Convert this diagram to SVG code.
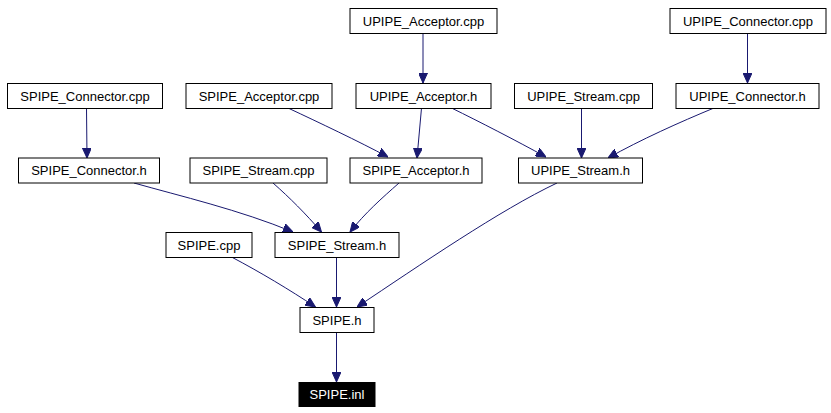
<svg xmlns="http://www.w3.org/2000/svg" width="831" height="413" viewBox="0 0 831 413">
<defs>
<style>
.n rect{fill:#fff;stroke:#000;stroke-width:1}
.n text{font-family:"Liberation Sans",Arial,sans-serif;font-size:13px;text-anchor:middle;fill:#000}
.hl rect{fill:#000}
.hl text{fill:#fff}
.e path{fill:none;stroke:#191970;stroke-width:1;marker-end:url(#ah)}
</style>
<marker id="ah" markerUnits="userSpaceOnUse" markerWidth="10" markerHeight="9" refX="10" refY="4.5" orient="auto">
<path d="M0,0 L10,4.5 L0,9 z" fill="#191970" stroke="#191970" stroke-width="1"/>
</marker>
</defs>
<rect width="831" height="413" fill="#fff"/>
<g id="edges" class="e">
<path d="M423,33 L423,83"/>
<path d="M86.5,108 L87,158"/>
<path d="M288,108 C320,123 358,141 388,157"/>
<path d="M421.5,108 L417,158"/>
<path d="M451.5,108 C480,122 515,140 546,157"/>
<path d="M581.5,108 L581.5,158"/>
<path d="M747.5,33 L747.5,83"/>
<path d="M714,108 C680,122 640,140 608,158"/>
<path d="M134,183 C180,196 240,210 293,232"/>
<path d="M273,183 C290,198 305,213 321.5,232"/>
<path d="M399,183 C382,198 365,213 350,232"/>
<path d="M557,183 C500,210 420,265 357,307"/>
<path d="M231.5,257 C260,272 290,290 315.5,307"/>
<path d="M336.5,257 L336.5,307"/>
<path d="M336.5,332 L336.5,382"/>
</g>
<g id="UPIPE_Acceptor_cpp" class="n"><rect x="350" y="8.5" width="147" height="25"/><text x="423.5" y="25.5">UPIPE_Acceptor.cpp</text></g>
<g id="UPIPE_Connector_cpp" class="n"><rect x="670" y="8.5" width="156" height="25"/><text x="748" y="25.5">UPIPE_Connector.cpp</text></g>
<g id="SPIPE_Connector_cpp" class="n"><rect x="7.5" y="83.5" width="155" height="25"/><text x="85" y="100.5">SPIPE_Connector.cpp</text></g>
<g id="SPIPE_Acceptor_cpp" class="n"><rect x="186" y="83.5" width="146" height="25"/><text x="259" y="100.5">SPIPE_Acceptor.cpp</text></g>
<g id="UPIPE_Acceptor_h" class="n"><rect x="356" y="83.5" width="135" height="25"/><text x="423.5" y="100.5">UPIPE_Acceptor.h</text></g>
<g id="UPIPE_Stream_cpp" class="n"><rect x="514.5" y="83.5" width="138" height="25"/><text x="583.5" y="100.5">UPIPE_Stream.cpp</text></g>
<g id="UPIPE_Connector_h" class="n"><rect x="676" y="83.5" width="143" height="25"/><text x="747.5" y="100.5">UPIPE_Connector.h</text></g>
<g id="SPIPE_Connector_h" class="n"><rect x="18.5" y="158" width="141" height="25"/><text x="89" y="175">SPIPE_Connector.h</text></g>
<g id="SPIPE_Stream_cpp" class="n"><rect x="190" y="158" width="137" height="25"/><text x="258.5" y="175">SPIPE_Stream.cpp</text></g>
<g id="SPIPE_Acceptor_h" class="n"><rect x="350" y="158" width="132" height="25"/><text x="416" y="175">SPIPE_Acceptor.h</text></g>
<g id="UPIPE_Stream_h" class="n"><rect x="518.5" y="158" width="124" height="25"/><text x="580.5" y="175">UPIPE_Stream.h</text></g>
<g id="SPIPE_cpp" class="n"><rect x="166" y="232.5" width="86" height="25"/><text x="209" y="249.5">SPIPE.cpp</text></g>
<g id="SPIPE_Stream_h" class="n"><rect x="275" y="232.5" width="124" height="25"/><text x="337" y="249.5">SPIPE_Stream.h</text></g>
<g id="SPIPE_h" class="n"><rect x="300" y="307.5" width="74" height="25"/><text x="337" y="324.5">SPIPE.h</text></g>
<g id="SPIPE_inl" class="n hl"><rect x="299" y="382.5" width="76" height="24"/><text x="337" y="399">SPIPE.inl</text></g>
</svg>
